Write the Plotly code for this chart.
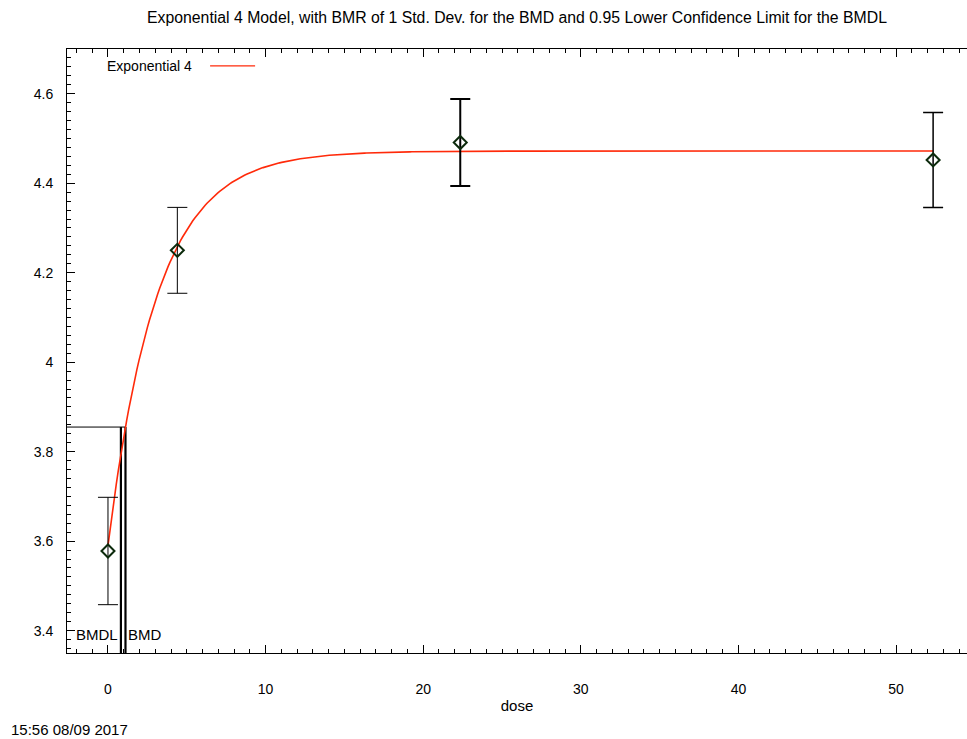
import numpy as np
import plotly.graph_objects as go

# Observed group data
doses = [0.0, 4.4, 22.35, 52.35]
means = [3.578, 4.250, 4.491, 4.452]
err_hi = [0.120, 0.096, 0.097, 0.106]
err_lo = [0.120, 0.096, 0.097, 0.106]
bar_widths = [1, 1, 2, 1.5]

# Exponential 4 model: f(d) = a * (c - (c - 1) * exp(-b * d))
model_a = 3.59
model_b = 0.322
model_c = 4.472 / 3.59

# Benchmark dose results
bmr_level = 3.855
bmd = 1.11
bmdl = 0.82

x_range = [-2.6, 54.5]
y_range = [3.35, 4.70]
x_ticks = [0, 10, 20, 30, 40, 50]
y_ticks = [3.4, 3.6, 3.8, 4.0, 4.2, 4.4, 4.6]
y_tick_text = ["3.4", "3.6", "3.8", "4", "4.2", "4.4", "4.6"]

FONT = "Liberation Sans, Arial, sans-serif"

d_curve = np.linspace(0, max(doses), 400)
f_curve = model_a * (model_c - (model_c - 1) * np.exp(-model_b * d_curve))

fig = go.Figure()

# BMD / BMDL reference lines
fig.add_trace(go.Scatter(x=[x_range[0], bmd], y=[bmr_level, bmr_level], mode="lines",
                         line=dict(color="black", width=1), hoverinfo="skip", showlegend=False))
for xv in (bmdl, bmd):
    fig.add_trace(go.Scatter(x=[xv, xv], y=[y_range[0], bmr_level], mode="lines",
                             line=dict(color="black", width=2.2), hoverinfo="skip",
                             showlegend=False))

# fitted curve
fig.add_trace(go.Scatter(x=d_curve, y=f_curve, mode="lines",
                         line=dict(color="#ff2a0a", width=1.6),
                         name="Exponential 4", showlegend=False))

# group means with error bars
for d, m, hi, lo, w in zip(doses, means, err_hi, err_lo, bar_widths):
    fig.add_trace(go.Scatter(
        x=[d], y=[m], mode="markers",
        marker=dict(symbol="diamond-open", size=10, color="#0c2a0c", line=dict(width=2)),
        error_y=dict(type="data", array=[hi], arrayminus=[lo], color="black",
                     thickness=w, width=10, symmetric=False),
        showlegend=False))

fig.add_annotation(x=bmdl, y=3.392, text="BMDL", showarrow=False, xanchor="right",
                   xshift=-1, font=dict(family=FONT, size=15, color="black"))
fig.add_annotation(x=bmd, y=3.392, text="BMD", showarrow=False, xanchor="left",
                   xshift=1, font=dict(family=FONT, size=15, color="black"))

# legend entry (label followed by line sample)
fig.add_annotation(xref="paper", yref="paper", x=0.042, y=0.972, text="Exponential 4",
                   showarrow=False, xanchor="left", yanchor="middle",
                   font=dict(family=FONT, size=14, color="black"))
fig.add_shape(type="line", xref="paper", yref="paper", x0=0.159, x1=0.209, y0=0.972, y1=0.972,
              line=dict(color="#ff2a0a", width=1.2))

# timestamp
fig.add_annotation(xref="paper", yref="paper", x=-0.0633, y=-0.127, text="15:56 08/09 2017",
                   showarrow=False, xanchor="left", yanchor="middle", borderpad=0,
                   font=dict(family=FONT, size=15, color="black"))

fig.update_layout(
    width=967, height=739,
    margin=dict(l=67, r=0, t=49, b=86),
    paper_bgcolor="white", plot_bgcolor="white",
    font=dict(family=FONT, size=14, color="black"),
    title=dict(text="Exponential 4 Model, with BMR of 1 Std. Dev. for the BMD and 0.95 Lower Confidence Limit for the BMDL",
               x=0.5, xref="paper", y=1 - 17 / 739, yref="container", yanchor="middle",
               font=dict(family=FONT, size=15.8, color="black")),
    xaxis=dict(range=x_range, tickvals=x_ticks, ticks="inside", ticklen=8, tickwidth=1,
               tickcolor="black", showline=True, linecolor="black", linewidth=1,
               mirror="ticks", showgrid=False, zeroline=False, ticklabelstandoff=23,
               tickfont=dict(family=FONT, size=14),
               minor=dict(dtick=1, ticks="inside", ticklen=4, tickcolor="black", showgrid=False),
               title=dict(text="dose", standoff=4, font=dict(family=FONT, size=15))),
    yaxis=dict(range=y_range, tickvals=y_ticks, ticktext=y_tick_text, ticks="inside",
               ticklen=8, tickwidth=1, tickcolor="black", showline=True, linecolor="black",
               linewidth=1, mirror=False, showgrid=False, zeroline=False, ticklabelstandoff=10,
               tickfont=dict(family=FONT, size=14),
               minor=dict(dtick=0.02, tick0=3.4, ticks="inside", ticklen=4, tickcolor="black",
                          showgrid=False)),
)

fig.write_html("out.html")
